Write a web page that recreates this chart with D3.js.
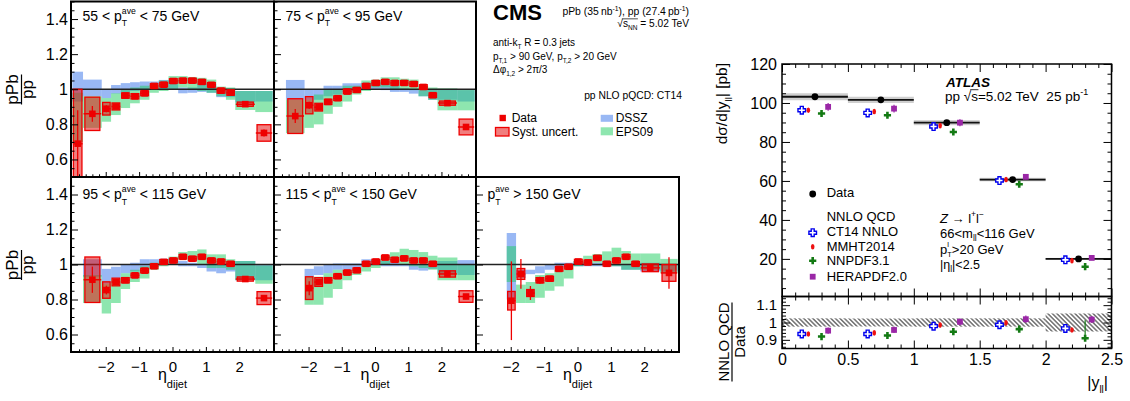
<!DOCTYPE html>
<html><head><meta charset="utf-8">
<script src="https://cdn.jsdelivr.net/npm/d3@7"></script>
<style>
html,body{margin:0;padding:0;background:#fff;}
svg text{font-family:"Liberation Sans",Arial,Helvetica,sans-serif;white-space:pre;}
</style></head><body>
<svg id="fig" width="1130" height="401"></svg>
<script>
// ================= CMS: pPb/pp dijet eta ratios =================
const etaEdges = [-3.0, -2.68, -2.12, -1.84, -1.55, -1.27, -0.98, -0.69, -0.41, -0.12,
                  0.17, 0.45, 0.74, 1.02, 1.31, 1.60, 1.88, 2.48, 3.0];
const etaTicks = [-2, -1, 0, 1, 2];
const ratioTicks = [0.6, 0.8, 1, 1.2, 1.4];
const ptLow  = [55, 75, 95, 115, 150];
const ptHigh = [75, 95, 115, 150, null];
const firstBin = [0, 1, 1, 2, 2];

// 55 < pT < 75
const ratio55 = [0.69, 0.86, 0.889, 0.902, 0.964, 0.96, 0.977, 1.019, 1.026, 1.047, 1.049, 1.049, 1.042, 1.025, 0.992, 0.981, 0.915, 0.751];
const stat55  = [0.19, 0.045, 0.02, 0.012, 0.008, 0.006, 0.006, 0.006, 0.006, 0.006, 0.006, 0.006, 0.006, 0.006, 0.006, 0.008, 0.008, 0.02];
const syst55  = [0.31, 0.095, 0.036, 0.02, 0.015, 0.015, 0.014, 0.013, 0.013, 0.013, 0.013, 0.013, 0.013, 0.013, 0.014, 0.015, 0.012, 0.047];
const dssz55  = [[0.93,1.10],[0.96,1.055],[0.95,1.0],[0.975,1.024],[0.98,1.035],[0.99,1.04],[1.0,1.044],[1.0,1.044],[1.0,1.053],[1.0,1.05],[0.977,1.01],[0.98,1.01],[0.985,1.035],[0.98,1.03],[0.955,1.0],[0.955,1.0],[0.925,0.99],[0.93,0.99]];
const eps55   = [[0.70,0.98],[0.78,0.96],[0.815,0.95],[0.853,0.977],[0.893,0.998],[0.92,1.01],[0.94,1.02],[0.98,1.025],[0.99,1.05],[1.0,1.075],[1.01,1.075],[1.0,1.07],[0.99,1.065],[0.98,1.055],[0.96,1.015],[0.94,1.01],[0.882,0.99],[0.87,0.99]];

// 75 < pT < 95
const ratio75 = [0.847, 0.909, 0.898, 0.928, 0.949, 0.987, 0.996, 1.019, 1.036, 1.042, 1.036, 1.036, 1.03, 1.013, 0.966, 0.921, 0.785];
const stat75  = [0.04, 0.02, 0.012, 0.008, 0.006, 0.006, 0.006, 0.006, 0.006, 0.006, 0.006, 0.006, 0.006, 0.006, 0.006, 0.008, 0.015];
const syst75  = [0.099, 0.049, 0.022, 0.015, 0.013, 0.013, 0.013, 0.013, 0.013, 0.013, 0.013, 0.013, 0.013, 0.013, 0.013, 0.012, 0.045];
const dssz75  = [[0.94,1.053],[0.94,1.0],[0.94,1.0],[0.96,1.02],[0.97,1.02],[0.985,1.034],[0.99,1.034],[1.0,1.038],[1.0,1.044],[0.995,1.035],[0.985,1.02],[0.985,1.005],[0.975,1.0],[0.96,1.0],[0.94,1.0],[0.94,1.0],[0.93,0.995]];
const eps75   = [[0.75,0.94],[0.78,0.94],[0.80,0.97],[0.86,1.0],[0.90,1.0],[0.93,1.02],[0.97,1.02],[0.99,1.05],[1.01,1.055],[1.01,1.068],[1.0,1.068],[1.0,1.06],[0.995,1.055],[0.96,1.02],[0.94,1.01],[0.88,1.005],[0.88,1.0]];

// 95 < pT < 115
const ratio95 = [0.913, 0.854, 0.90, 0.91, 0.938, 0.965, 0.99, 1.015, 1.023, 1.044, 1.033, 1.044, 1.023, 1.017, 1.004, 0.917, 0.808];
const stat95  = [0.075, 0.025, 0.012, 0.008, 0.006, 0.006, 0.006, 0.006, 0.006, 0.006, 0.006, 0.006, 0.006, 0.006, 0.006, 0.008, 0.015];
const syst95  = [0.13, 0.047, 0.022, 0.015, 0.013, 0.013, 0.013, 0.013, 0.013, 0.013, 0.013, 0.013, 0.013, 0.013, 0.013, 0.012, 0.037];
const dssz95  = [[0.93,1.03],[0.89,0.975],[0.92,0.987],[0.95,1.0],[0.96,1.01],[0.98,1.03],[0.995,1.03],[1.0,1.033],[1.0,1.033],[0.99,1.02],[0.99,1.01],[0.98,1.0],[0.96,1.02],[0.95,1.0],[0.96,1.02],[0.91,1.02],[0.91,1.0]];
const eps95   = [[0.78,0.94],[0.72,0.89],[0.78,0.92],[0.86,0.95],[0.90,0.97],[0.92,0.99],[0.97,1.01],[0.99,1.02],[1.0,1.045],[1.03,1.071],[1.02,1.077],[1.0,1.086],[0.98,1.058],[0.98,1.058],[0.97,1.03],[0.91,1.02],[0.89,0.995]];

// 115 < pT < 150
const ratio115 = [0.865, 0.90, 0.91, 0.933, 0.954, 0.967, 1.004, 1.017, 1.04, 1.027, 1.035, 1.023, 1.023, 1.004, 0.946, 0.817];
const stat115  = [0.04, 0.015, 0.01, 0.008, 0.006, 0.006, 0.006, 0.006, 0.006, 0.006, 0.006, 0.006, 0.006, 0.006, 0.008, 0.015];
const syst115  = [0.065, 0.025, 0.015, 0.013, 0.013, 0.013, 0.013, 0.013, 0.013, 0.013, 0.013, 0.013, 0.013, 0.013, 0.018, 0.033];
const dssz115  = [[0.93,0.975],[0.94,0.99],[0.95,1.0],[0.97,1.006],[0.97,1.006],[0.975,1.006],[0.99,1.03],[1.0,1.03],[0.99,1.02],[0.99,1.01],[0.99,1.0],[0.97,1.0],[0.965,1.0],[0.975,1.01],[0.95,1.02],[0.94,1.025]];
const eps115   = [[0.77,0.93],[0.77,0.93],[0.81,0.95],[0.86,0.97],[0.91,0.97],[0.94,0.975],[0.96,1.0],[0.98,1.025],[1.0,1.05],[1.01,1.07],[1.0,1.09],[0.99,1.083],[0.98,1.071],[0.97,1.05],[0.91,1.04],[0.91,1.0]];

// pT > 150
const ratio150 = [0.793, 0.946, 0.837, 0.91, 0.919, 0.975, 0.987, 1.017, 1.012, 1.038, 1.004, 1.023, 1.044, 1.004, 0.981, 0.952];
const stat150  = [0.225, 0.085, 0.04, 0.02, 0.015, 0.01, 0.008, 0.008, 0.008, 0.008, 0.008, 0.008, 0.008, 0.008, 0.02, 0.09];
const syst150  = [0.053, 0.031, 0.02, 0.015, 0.014, 0.013, 0.013, 0.013, 0.013, 0.013, 0.013, 0.013, 0.013, 0.013, 0.022, 0.048];
const dssz150  = [[0.80,1.18],[0.923,0.97],[0.945,0.97],[0.95,0.99],[0.97,1.0],[0.98,1.01],[0.99,1.01],[0.99,1.02],[0.99,1.01],[0.99,1.01],[0.99,1.01],[0.99,1.0],[0.97,1.0],[0.97,1.01],[0.96,1.01],[0.96,1.0]];
const eps150   = [[0.90,1.105],[0.78,0.885],[0.78,0.90],[0.81,0.94],[0.85,0.95],[0.875,0.97],[0.92,0.99],[0.99,1.02],[1.0,1.05],[1.01,1.06],[1.0,1.075],[0.99,1.096],[0.97,1.077],[0.97,1.063],[0.97,1.063],[0.95,1.032]];

// ================= ATLAS: Z -> ll rapidity =================
const yllEdges = [0, 0.5, 1, 1.5, 2, 2.5];
const yllTicks = [0, 0.5, 1, 1.5, 2, 2.5];
const xsecTicks = [20, 40, 60, 80, 100, 120];
const nnloRatioTicks = [0.9, 1, 1.1];
const zData     = [103.2, 101.6, 89.9, 60.7, 20.0];
const zDataStat = [0.6, 0.6, 0.5, 0.4, 0.2];
const zDataSyst = [1.8, 1.6, 1.3, 0.9, 0.5];
const zTotRel   = [0.024, 0.023, 0.024, 0.024, 0.052];
const ct14      = [96.3, 94.9, 87.9, 60.2, 19.5];
const mmht      = [96.3, 95.6, 88.4, 60.7, 19.1];
const nnpdf     = [94.6, 93.7, 85.1, 58.3, 16.0];
const hera      = [98.0, 97.1, 89.9, 62.1, 20.5];
const ct14Err   = [1.8, 1.8, 1.6, 1.1, 0.5];
const mmhtErr   = [1.0, 1.0, 0.9, 0.7, 0.3];
const nnpdfErr  = [1.0, 1.0, 0.9, 0.7, 0.4];
const heraErr   = [2.0, 2.0, 1.8, 1.3, 0.5];
const ct14Ratio  = [0.934, 0.934, 0.979, 0.987, 0.966];
const mmhtRatio  = [0.934, 0.94, 0.985, 0.998, 0.957];
const nnpdfRatio = [0.919, 0.925, 0.947, 0.962, 0.909];
const heraRatio  = [0.953, 0.957, 1.004, 1.019, 1.017];
const ct14RatioErr   = [0.012, 0.012, 0.012, 0.01, 0.01];
const mmhtRatioErr   = [0.008, 0.008, 0.008, 0.007, 0.007];
const nnpdfRatioLo   = [0.008, 0.008, 0.008, 0.008, 0.01];
const nnpdfRatioHi   = [0.008, 0.008, 0.008, 0.008, 0.104];
const heraRatioErr   = [0.018, 0.018, 0.02, 0.022, 0.02];

// ---------------------------------------------------------------
const svg = d3.select('#fig');
const defs = svg.append('defs');

const BLUE_FILL  = 'rgba(70,125,235,0.55)';
const GREEN_FILL = 'rgba(30,205,95,0.5)';
const BOX_FILL   = 'rgba(230,20,20,0.55)';
const RED = '#ee0000';

// Text with sub/superscripts, measured piece by piece
function rich(parent, x, y, parts, o) {
  const size = o.size;
  const outer = parent.append('g')
    .attr('transform', `translate(${x},${y})` + (o.rotate ? ` rotate(${o.rotate})` : ''));
  const g = outer.append('g').attr('font-size', size).attr('fill', o.fill || '#000');
  if (o.weight) g.attr('font-weight', o.weight);
  if (o.style) g.attr('font-style', o.style);
  const small = size * (o.small || 0.62);
  let cx = 0, ovA = null, ovB = null;
  for (const p0 of parts) {
    const p = typeof p0 === 'string' ? {t: p0} : p0;
    let w = 0;
    if (p.t !== undefined) {
      const t = g.append('text').attr('x', cx).attr('y', 0).text(p.t);
      if (p.style) t.attr('font-style', p.style);
      if (p.size) t.attr('font-size', p.size);
      w = t.node().getComputedTextLength();
    } else {
      const stacked = p.sup !== undefined && p.sub !== undefined;
      if (p.sup !== undefined) {
        const t = g.append('text').attr('x', cx)
          .attr('y', p.supDy !== undefined ? p.supDy : -size * (stacked ? 0.48 : 0.42))
          .attr('font-size', p.ssize || small).text(p.sup);
        w = Math.max(w, t.node().getComputedTextLength());
      }
      if (p.sub !== undefined) {
        const t = g.append('text').attr('x', cx)
          .attr('y', p.subDy !== undefined ? p.subDy : size * (stacked ? 0.42 : 0.3))
          .attr('font-size', p.ssize || small).text(p.sub);
        w = Math.max(w, t.node().getComputedTextLength());
      }
    }
    if (p.ov) { if (ovA === null) ovA = cx; ovB = cx + w; }
    cx += w + (p.gap || 0);
  }
  if (ovA !== null) {
    g.append('line').attr('x1', ovA - 1).attr('x2', ovB + 0.5)
      .attr('y1', -size * 0.8).attr('y2', -size * 0.8)
      .attr('stroke', '#000').attr('stroke-width', Math.max(0.7, size * 0.06));
  }
  const dx = o.anchor === 'end' ? -cx : (o.anchor === 'middle' ? -cx / 2 : 0);
  g.attr('transform', `translate(${dx},0)`);
  return cx;
}

// Rotated fraction label
function fraction(parent, cx, cy, num, den, size, len, numY, denY) {
  const g = parent.append('g').attr('transform', `translate(${cx},${cy}) rotate(-90)`)
    .attr('font-size', size).attr('text-anchor', 'middle');
  g.append('text').attr('x', 0).attr('y', numY).text(num);
  g.append('line').attr('x1', -len / 2).attr('x2', len / 2).attr('y1', 0).attr('y2', 0)
    .attr('stroke', '#000').attr('stroke-width', 1.2);
  g.append('text').attr('x', 0).attr('y', denY).text(den);
}

function styleAxis(sel, fontSize) {
  sel.select('.domain').remove();
  sel.attr('font-family', null).attr('font-size', null);
  sel.selectAll('.tick line').attr('stroke', '#000').attr('stroke-width', 1);
  sel.selectAll('.tick text').attr('fill', '#000').attr('font-size', fontSize);
}

// ---------------- CMS panels ----------------
const cmsCols = [[71, 274], [274, 476], [476, 679]];
const cmsRows = [[1.5, 177], [177, 352]];
const panels = [
  {col: 0, row: 0, ratio: ratio55,  stat: stat55,  syst: syst55,  dssz: dssz55,  eps: eps55},
  {col: 1, row: 0, ratio: ratio75,  stat: stat75,  syst: syst75,  dssz: dssz75,  eps: eps75},
  {col: 0, row: 1, ratio: ratio95,  stat: stat95,  syst: syst95,  dssz: dssz95,  eps: eps95},
  {col: 1, row: 1, ratio: ratio115, stat: stat115, syst: syst115, dssz: dssz115, eps: eps115},
  {col: 2, row: 1, ratio: ratio150, stat: stat150, syst: syst150, dssz: dssz150, eps: eps150}
];

const minorEta = d3.range(-15, 16).map(k => k * 0.2).filter(v => Math.abs(v - Math.round(v)) > 1e-6);
const minorRatio = d3.range(10, 31).map(k => k * 0.05).filter((v, i) => (i + 10) % 4 !== 0);

panels.forEach((p, i) => {
  const [x0, x1] = cmsCols[p.col];
  const [y0, y1] = cmsRows[p.row];
  const x = d3.scaleLinear().domain([-3.04, 3.04]).range([x0, x1]);
  const y = d3.scaleLinear().domain([0.5, 1.5]).range([y1, y0]);
  const fb = firstBin[i];
  const clipId = 'clip' + i;
  defs.append('clipPath').attr('id', clipId).append('rect')
    .attr('x', x0).attr('y', y0).attr('width', x1 - x0).attr('height', y1 - y0);
  const g = svg.append('g').attr('clip-path', `url(#${clipId})`);

  // theory bands
  [[p.dssz, BLUE_FILL], [p.eps, GREEN_FILL]].forEach(([band, fill]) => {
    g.selectAll(null).data(band).enter().append('rect')
      .attr('x', (d, j) => x(etaEdges[fb + j]))
      .attr('width', (d, j) => x(etaEdges[fb + j + 1]) - x(etaEdges[fb + j]))
      .attr('y', d => y(d[1]))
      .attr('height', d => y(d[0]) - y(d[1]))
      .attr('fill', fill);
  });

  // unity line
  g.append('line').attr('x1', x0).attr('x2', x1).attr('y1', y(1)).attr('y2', y(1))
    .attr('stroke', '#222').attr('stroke-width', 1.5);

  const pts = p.ratio.map((v, j) => {
    const b = fb + j;
    return {lo: etaEdges[b], hi: etaEdges[b + 1], c: (etaEdges[b] + etaEdges[b + 1]) / 2,
            v, st: p.stat[j], sy: p.syst[j]};
  });

  // systematic boxes
  g.selectAll(null).data(pts).enter().append('rect')
    .attr('x', d => x(d.c - 0.4 * (d.hi - d.lo)))
    .attr('width', d => x(d.c + 0.4 * (d.hi - d.lo)) - x(d.c - 0.4 * (d.hi - d.lo)))
    .attr('y', d => y(d.v + d.sy))
    .attr('height', d => y(d.v - d.sy) - y(d.v + d.sy))
    .attr('fill', BOX_FILL).attr('stroke', RED).attr('stroke-width', 1.3);

  // stat error bars (vertical) and bin width bars (horizontal)
  g.selectAll(null).data(pts).enter().append('line')
    .attr('x1', d => x(d.c)).attr('x2', d => x(d.c))
    .attr('y1', d => y(d.v + d.st)).attr('y2', d => y(d.v - d.st))
    .attr('stroke', RED).attr('stroke-width', 1.3);
  g.selectAll(null).data(pts).enter().append('line')
    .attr('x1', d => x(d.lo) + 0.5).attr('x2', d => x(d.hi) - 0.5)
    .attr('y1', d => y(d.v)).attr('y2', d => y(d.v))
    .attr('stroke', RED).attr('stroke-width', 1.5);
  g.selectAll(null).data(pts).enter().append('rect')
    .attr('x', d => x(d.c) - 3.3).attr('y', d => y(d.v) - 3.3)
    .attr('width', 6.6).attr('height', 6.6).attr('fill', RED);

  // axes (ticks point inward)
  const showX = p.row === 1;
  const showY = p.col === 0;
  const fmtEta = d => d < 0 ? '\u2212' + (-d) : String(d);
  const gxM = svg.append('g').attr('transform', `translate(0,${y1})`)
    .call(d3.axisBottom(x).tickValues(etaTicks).tickSize(-5).tickPadding(9.5)
      .tickFormat(showX ? fmtEta : () => ''));
  styleAxis(gxM, 15);
  const gxm = svg.append('g').attr('transform', `translate(0,${y1})`)
    .call(d3.axisBottom(x).tickValues(minorEta).tickSize(-2.7).tickFormat(() => ''));
  styleAxis(gxm, 15);
  const gyM = svg.append('g').attr('transform', `translate(${x0},0)`)
    .call(d3.axisLeft(y).tickValues(ratioTicks).tickSize(-7).tickPadding(3)
      .tickFormat(showY ? d => String(d) : () => ''));
  styleAxis(gyM, 16);
  const gym = svg.append('g').attr('transform', `translate(${x0},0)`)
    .call(d3.axisLeft(y).tickValues(minorRatio).tickSize(-3.5).tickFormat(() => ''));
  styleAxis(gym, 16);

  // frame
  svg.append('rect').attr('x', x0).attr('y', y0).attr('width', x1 - x0).attr('height', y1 - y0)
    .attr('fill', 'none').attr('stroke', '#000').attr('stroke-width', 2);

  // pT bin label
  const parts = ptHigh[i] === null
    ? ['p', {sup: 'ave', sub: 'T'}, ` > ${ptLow[i]} GeV`]
    : [`${ptLow[i]} < p`, {sup: 'ave', sub: 'T'}, ` < ${ptHigh[i]} GeV`];
  rich(svg, x0 + 11.5, p.row === 0 ? 20.5 : 199, parts, {size: 14});

  // eta axis title
  if (showX) {
    rich(svg, x(0), 380, ['\u03b7', {sub: 'dijet', subDy: 8, ssize: 11}], {size: 16, anchor: 'middle'});
  }
});

// CMS y titles
fraction(svg, 21.5, 89.5, 'pPb', 'pp', 17, 30, -3.5, 11);
fraction(svg, 21.5, 265, 'pPb', 'pp', 17, 30, -3.5, 11);

// CMS header and legend
rich(svg, 493, 20, ['CMS'], {size: 22, weight: 'bold'});
rich(svg, 689, 15, ['pPb (35\u2009nb', {sup: '-1', supDy: -4, ssize: 6.8}, '), pp (27.4\u2009pb', {sup: '-1', supDy: -4, ssize: 6.8}, ')'], {size: 10.4, anchor: 'end'});
rich(svg, 689, 27, ['\u221a', {t: 's', ov: true}, {sub: 'NN', ov: true, subDy: 3, ssize: 6.5}, ' = 5.02 TeV'], {size: 10.2, anchor: 'end'});
rich(svg, 493, 46, ['anti-k', {sub: 'T', subDy: 3.2, ssize: 6.5}, ' R = 0.3 jets'], {size: 10});
rich(svg, 493, 60, ['p', {sub: 'T,1', subDy: 3.2, ssize: 6.5}, ' > 90 GeV, p', {sub: 'T,2', subDy: 3.2, ssize: 6.5}, ' > 20 GeV'], {size: 10});
rich(svg, 493, 72.5, ['\u0394\u03c6', {sub: '1,2', subDy: 3.2, ssize: 6.5}, ' > 2\u03c0/3'], {size: 10});
rich(svg, 682, 99, ['pp NLO pQCD: CT14'], {size: 10.3, anchor: 'end'});

const cmsLeg = svg.append('g');
cmsLeg.append('rect').attr('x', 499.5).attr('y', 114.8).attr('width', 6.4).attr('height', 6.4).attr('fill', RED);
cmsLeg.append('rect').attr('x', 495.5).attr('y', 127.5).attr('width', 13.5).attr('height', 8.5)
  .attr('fill', BOX_FILL).attr('stroke', RED).attr('stroke-width', 1.3);
cmsLeg.append('rect').attr('x', 600.7).attr('y', 114.8).attr('width', 12.3).attr('height', 7).attr('fill', BLUE_FILL);
cmsLeg.append('rect').attr('x', 600.7).attr('y', 127.3).attr('width', 12.3).attr('height', 8).attr('fill', GREEN_FILL);
rich(svg, 511.7, 122, ['Data'], {size: 12});
rich(svg, 511.7, 136, ['Syst. uncert.'], {size: 12});
rich(svg, 615.7, 122, ['DSSZ'], {size: 12});
rich(svg, 615.7, 136, ['EPS09'], {size: 12});

// ---------------- ATLAS panel ----------------
const xA = d3.scaleLinear().domain([0, 2.5]).range([782, 1111.5]);
const yMain = d3.scaleLinear().domain([0.7, 120]).range([296.5, 64]);
const yRat = d3.scaleLinear().domain([0.85, 1.15]).range([348.5, 296.5]);

const hatch = defs.append('pattern').attr('id', 'hatch').attr('patternUnits', 'userSpaceOnUse')
  .attr('width', 3.2).attr('height', 3.2).attr('patternTransform', 'rotate(-45)');
hatch.append('line').attr('x1', 0.8).attr('y1', 0).attr('x2', 0.8).attr('y2', 3.2)
  .attr('stroke', '#111').attr('stroke-width', 0.9);

const bins = zData.map((v, i) => ({lo: yllEdges[i], hi: yllEdges[i + 1], c: (yllEdges[i] + yllEdges[i + 1]) / 2,
  v, st: zDataStat[i], sy: zDataSyst[i], rel: zTotRel[i]}));

const ga = svg.append('g');
// systematic band + data line
ga.selectAll(null).data(bins).enter().append('rect')
  .attr('x', d => xA(d.lo)).attr('width', d => xA(d.hi) - xA(d.lo))
  .attr('y', d => yMain(d.v + d.sy)).attr('height', d => yMain(d.v - d.sy) - yMain(d.v + d.sy))
  .attr('fill', '#cfcfcf');
ga.selectAll(null).data(bins).enter().append('line')
  .attr('x1', d => xA(d.lo)).attr('x2', d => xA(d.hi))
  .attr('y1', d => yMain(d.v)).attr('y2', d => yMain(d.v))
  .attr('stroke', '#111').attr('stroke-width', 1.8);

// ratio band
ga.selectAll(null).data(bins).enter().append('rect')
  .attr('x', d => xA(d.lo)).attr('width', d => xA(d.hi) - xA(d.lo))
  .attr('y', d => yRat(1 + d.rel)).attr('height', d => yRat(1 - d.rel) - yRat(1 + d.rel))
  .attr('fill', 'url(#hatch)');

// marker shapes
function plusPath(L, a) {
  return `M${-a},${-L}H${a}V${-a}H${L}V${a}H${a}V${L}H${-a}V${a}H${-L}V${-a}H${-a}Z`;
}
function drawMarker(g, kind, cx, cy) {
  if (kind === 'ct14') {
    g.append('path').attr('d', plusPath(3.8, 1.5)).attr('transform', `translate(${cx},${cy})`)
      .attr('fill', '#fff').attr('stroke', '#0000ee').attr('stroke-width', 1.4);
  } else if (kind === 'mmht') {
    g.append('ellipse').attr('cx', cx).attr('cy', cy).attr('rx', 1.8).attr('ry', 2.8).attr('fill', '#ee1111');
  } else if (kind === 'nnpdf') {
    g.append('path').attr('d', plusPath(3.6, 1.3)).attr('transform', `translate(${cx},${cy})`).attr('fill', '#137a13');
  } else if (kind === 'hera') {
    g.append('rect').attr('x', cx - 2.9).attr('y', cy - 2.9).attr('width', 5.8).attr('height', 5.8).attr('fill', '#9a27a6');
  } else if (kind === 'data') {
    g.append('circle').attr('cx', cx).attr('cy', cy).attr('r', 3.4).attr('fill', '#000');
  }
}
const predSets = [
  {kind: 'ct14',  off: -0.1,  main: ct14,  err: ct14Err,  r: ct14Ratio,  rlo: ct14RatioErr, rhi: ct14RatioErr, col: '#0000ee'},
  {kind: 'mmht',  off: -0.05, main: mmht,  err: mmhtErr,  r: mmhtRatio,  rlo: mmhtRatioErr, rhi: mmhtRatioErr, col: '#ee1111'},
  {kind: 'nnpdf', off: 0.05,  main: nnpdf, err: nnpdfErr, r: nnpdfRatio, rlo: nnpdfRatioLo, rhi: nnpdfRatioHi, col: '#137a13'},
  {kind: 'hera',  off: 0.1,   main: hera,  err: heraErr,  r: heraRatio,  rlo: heraRatioErr, rhi: heraRatioErr, col: '#9a27a6'}
];
predSets.forEach(s => {
  s.main.forEach((v, i) => {
    const cx = xA(bins[i].c + s.off);
    ga.append('line').attr('x1', cx).attr('x2', cx)
      .attr('y1', yMain(v + s.err[i])).attr('y2', yMain(v - s.err[i]))
      .attr('stroke', s.col).attr('stroke-width', 1.2);
    drawMarker(ga, s.kind, cx, yMain(v));
  });
  s.r.forEach((v, i) => {
    const cx = xA(bins[i].c + s.off);
    ga.append('line').attr('x1', cx).attr('x2', cx)
      .attr('y1', yRat(v + s.rhi[i])).attr('y2', yRat(v - s.rlo[i]))
      .attr('stroke', s.col).attr('stroke-width', 1.2);
    drawMarker(ga, s.kind, cx, yRat(v));
  });
});
// data points
bins.forEach(d => {
  ga.append('line').attr('x1', xA(d.c)).attr('x2', xA(d.c))
    .attr('y1', yMain(d.v + d.st)).attr('y2', yMain(d.v - d.st)).attr('stroke', '#000').attr('stroke-width', 1.2);
  drawMarker(ga, 'data', xA(d.c), yMain(d.v));
});

// ATLAS axes
const minorYll = d3.range(0, 26).map(k => k * 0.1).filter((v, k) => k % 5 !== 0);
const minorXsec = d3.range(1, 25).map(k => k * 5).filter(v => v % 20 !== 0);
const minorNR = d3.range(43, 58).map(k => k * 0.02).filter(v => Math.abs(v * 10 - Math.round(v * 10)) > 1e-6);
function axisSet(g) {
  [[d3.axisLeft, 782], [d3.axisRight, 1111.5]].forEach(([f, xx]) => {
    const isLeft = f === d3.axisLeft;
    styleAxis(g.append('g').attr('transform', `translate(${xx},0)`)
      .call(f(yMain).tickValues(xsecTicks).tickSize(-8).tickPadding(5).tickFormat(isLeft ? d => d : () => '')), 16);
    styleAxis(g.append('g').attr('transform', `translate(${xx},0)`)
      .call(f(yMain).tickValues(minorXsec).tickSize(-4).tickFormat(() => '')), 16);
    styleAxis(g.append('g').attr('transform', `translate(${xx},0)`)
      .call(f(yRat).tickValues(nnloRatioTicks).tickSize(-8).tickPadding(5).tickFormat(isLeft ? d => d : () => '')), 15);
    styleAxis(g.append('g').attr('transform', `translate(${xx},0)`)
      .call(f(yRat).tickValues(minorNR).tickSize(-4).tickFormat(() => '')), 15);
  });
  [[d3.axisTop, 64], [d3.axisBottom, 296.5], [d3.axisTop, 296.5], [d3.axisBottom, 348.5]].forEach(([f, yy], k) => {
    const labels = k === 3;
    styleAxis(g.append('g').attr('transform', `translate(0,${yy})`)
      .call(f(xA).tickValues(yllTicks).tickSize(-8).tickPadding(5).tickFormat(labels ? d => d : () => '')), 16);
    styleAxis(g.append('g').attr('transform', `translate(0,${yy})`)
      .call(f(xA).tickValues(minorYll).tickSize(-4).tickFormat(() => '')), 16);
  });
}
axisSet(svg.append('g'));
svg.append('rect').attr('x', 782).attr('y', 64).attr('width', 329.5).attr('height', 232.5)
  .attr('fill', 'none').attr('stroke', '#000').attr('stroke-width', 1.5);
svg.append('rect').attr('x', 782).attr('y', 296.5).attr('width', 329.5).attr('height', 52)
  .attr('fill', 'none').attr('stroke', '#000').attr('stroke-width', 1.5);

// ATLAS titles
rich(svg, 727, 63, ['d\u03c3/d|y', {sub: 'll', subDy: 5, ssize: 9.5}, '| [pb]'], {size: 15.5, anchor: 'end', rotate: -90});
fraction(svg, 732, 342, 'NNLO QCD', 'Data', 15, 79, -3, 13);
rich(svg, 1108, 388, ['|y', {sub: 'll', subDy: 5, ssize: 10}, '|'], {size: 16, anchor: 'end'});

// ATLAS labels
rich(svg, 946, 86.7, ['ATLAS'], {size: 13.5, weight: 'bold', style: 'italic'});
rich(svg, 945, 100.5, ['pp \u221a', {t: 's', ov: true}, '=5.02 TeV  25 pb', {sup: '-1', supDy: -5.5, ssize: 9}], {size: 13.5});
rich(svg, 940, 222.5, [{t: 'Z', style: 'italic'}, ' \u2192 l', {sup: '+', supDy: -5.5, ssize: 8.5}, 'l', {sup: '\u2212', supDy: -5.5, ssize: 8.5}], {size: 13});
rich(svg, 940, 237.5, ['66<m', {sub: 'll', subDy: 3.5, ssize: 8.5}, '<116 GeV'], {size: 13});
rich(svg, 940, 253.5, ['p', {sup: 'l', sub: 'T', supDy: -6.5, subDy: 3, ssize: 7.5}, '>20 GeV'], {size: 13});
rich(svg, 940, 268.5, ['|\u03b7', {sub: 'l', subDy: 3.5, ssize: 8.5}, '|<2.5'], {size: 12.5});

// ATLAS legend
const legA = svg.append('g');
drawMarker(legA, 'data', 812.7, 194);
drawMarker(legA, 'ct14', 812.7, 232.7);
drawMarker(legA, 'mmht', 812.7, 246.7);
drawMarker(legA, 'nnpdf', 812.7, 260.7);
drawMarker(legA, 'hera', 812.7, 276.7);
rich(svg, 826.7, 197.3, ['Data'], {size: 13});
rich(svg, 826.7, 220.7, ['NNLO QCD'], {size: 13});
rich(svg, 826.7, 236, ['CT14 NNLO'], {size: 13});
rich(svg, 826.7, 250.7, ['MMHT2014'], {size: 13});
rich(svg, 826.7, 265, ['NNPDF3.1'], {size: 13});
rich(svg, 826.7, 280.5, ['HERAPDF2.0'], {size: 13});
</script>
</body></html>
